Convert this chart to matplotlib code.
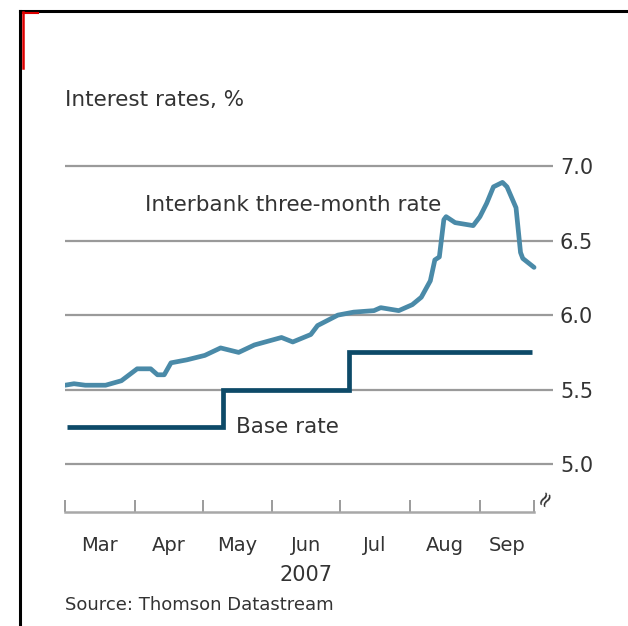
import numpy as np
import pandas as pd
import matplotlib
matplotlib.use('Agg')
import matplotlib.pyplot as plt
import matplotlib.dates as mdates
from matplotlib.lines import Line2D

plt.rcParams['font.family'] = ['DejaVu Sans']

# Interbank three-month rate, %
interbank_dates = ['2007-03-01', '2007-03-05', '2007-03-10', '2007-03-19', '2007-03-26',
                   '2007-04-02', '2007-04-08', '2007-04-11', '2007-04-14', '2007-04-17',
                   '2007-04-24', '2007-05-02', '2007-05-09', '2007-05-17', '2007-05-24',
                   '2007-06-05', '2007-06-10', '2007-06-18', '2007-06-21', '2007-06-30',
                   '2007-07-07', '2007-07-16', '2007-07-19', '2007-07-27', '2007-08-02',
                   '2007-08-06', '2007-08-10', '2007-08-12', '2007-08-14', '2007-08-16',
                   '2007-08-17', '2007-08-21', '2007-08-29', '2007-09-01', '2007-09-04',
                   '2007-09-07', '2007-09-11', '2007-09-13', '2007-09-17', '2007-09-19',
                   '2007-09-20', '2007-09-25']
interbank_values = [5.53, 5.54, 5.53, 5.53, 5.56,
                    5.64, 5.64, 5.60, 5.60, 5.68,
                    5.70, 5.73, 5.78, 5.75, 5.80,
                    5.85, 5.82, 5.87, 5.93, 6.00,
                    6.02, 6.03, 6.05, 6.03, 6.07,
                    6.12, 6.23, 6.37, 6.39, 6.64,
                    6.66, 6.62, 6.60, 6.66, 6.75,
                    6.86, 6.89, 6.86, 6.72, 6.42,
                    6.38, 6.32]

# Bank of England base rate, %
base_dates = ['2007-03-02', '2007-05-10', '2007-07-05', '2007-09-24']
base_values = [5.25, 5.50, 5.75, 5.75]

y_ticks = [5.0, 5.5, 6.0, 6.5, 7.0]
month_starts = ['2007-03-01', '2007-04-01', '2007-05-01', '2007-06-01',
                '2007-07-01', '2007-08-01', '2007-09-01', '2007-09-25']
month_labels = ['Mar', 'Apr', 'May', 'Jun', 'Jul', 'Aug', 'Sep']

text_col = '#333333'
grid_col = '#9a9a9a'

W, H = 628, 626
fig = plt.figure(figsize=(W / 100, H / 100), dpi=100)
ax = fig.add_axes([65 / W, 1 - 512 / H, 488 / W, (512 - 158.5) / H])

ib_x = pd.to_datetime(interbank_dates)
base_x = pd.to_datetime(base_dates)
ticks_x = pd.to_datetime(month_starts)

x0 = mdates.date2num(ticks_x[0])
ax.set_xlim(x0, x0 + 216.4)
ax.set_ylim(4.68, 7.05)

for v in y_ticks:
    ax.axhline(v, color=grid_col, lw=1.6, zorder=1)

ax.plot(ib_x, interbank_values, color='#4a8aa8', lw=3.4,
        solid_joinstyle='round', solid_capstyle='round', zorder=3)
ax.plot(base_x, base_values, color='#0d4a68', lw=3.4, drawstyle='steps-post',
        solid_joinstyle='miter', solid_capstyle='butt', zorder=3)

for s in ['top', 'left', 'right']:
    ax.spines[s].set_visible(False)
tnum = mdates.date2num(ticks_x)
ax.spines['bottom'].set_bounds(tnum[0], tnum[-1])
ax.spines['bottom'].set_color('#a8a8a8')
ax.spines['bottom'].set_linewidth(1.8)

ax.set_xticks(tnum)
ax.set_xticklabels([''] * len(tnum))
ax.tick_params(axis='x', which='major', direction='in', length=9, width=1.2,
               color='#8a8a8a')
mids = (tnum[:-1] + tnum[1:]) / 2
ax.set_xticks(mids, minor=True)
ax.set_xticklabels(month_labels, minor=True, fontsize=14, color=text_col)
ax.tick_params(axis='x', which='minor', length=0, pad=17)

ax.yaxis.tick_right()
ax.set_yticks(y_ticks)
ax.set_yticklabels(['%.1f' % v for v in y_ticks], fontsize=15, color=text_col)
ax.tick_params(axis='y', length=0, pad=5)

# break mark on the value axis
ax.text(0.984, 0.04, '≈', transform=ax.transAxes, rotation=60, fontsize=15,
        color=text_col, ha='center', va='center')

fig.text(65 / W, 1 - 100 / H, 'Interest rates, %', fontsize=15.5,
         color=text_col, ha='left', va='center')
fig.text(293 / W, 1 - 205 / H, 'Interbank three-month rate', fontsize=15.5,
         color=text_col, ha='center', va='center')
fig.text(236 / W, 1 - 427 / H, 'Base rate', fontsize=15.5,
         color=text_col, ha='left', va='center')
fig.text(306 / W, 1 - 575 / H, '2007', fontsize=15,
         color=text_col, ha='center', va='center')
fig.text(65 / W, 1 - 605 / H, 'Source: Thomson Datastream', fontsize=13,
         color=text_col, ha='left', va='center')

# frame: black top and left rules, red corner mark
fig.add_artist(Line2D([20 / W, 1], [1 - 10.5 / H] * 2, color='black', lw=2.2))
fig.add_artist(Line2D([20 / W] * 2, [1 - 10.5 / H, 0], color='black', lw=2.2))
fig.add_artist(Line2D([22.5 / W] * 2, [1 - 12 / H, 1 - 68 / H], color='#dd0000', lw=1.8))
fig.add_artist(Line2D([22.5 / W, 38 / W], [1 - 12.5 / H] * 2, color='#dd0000', lw=1.5))

fig.savefig('out.png', dpi=100)
